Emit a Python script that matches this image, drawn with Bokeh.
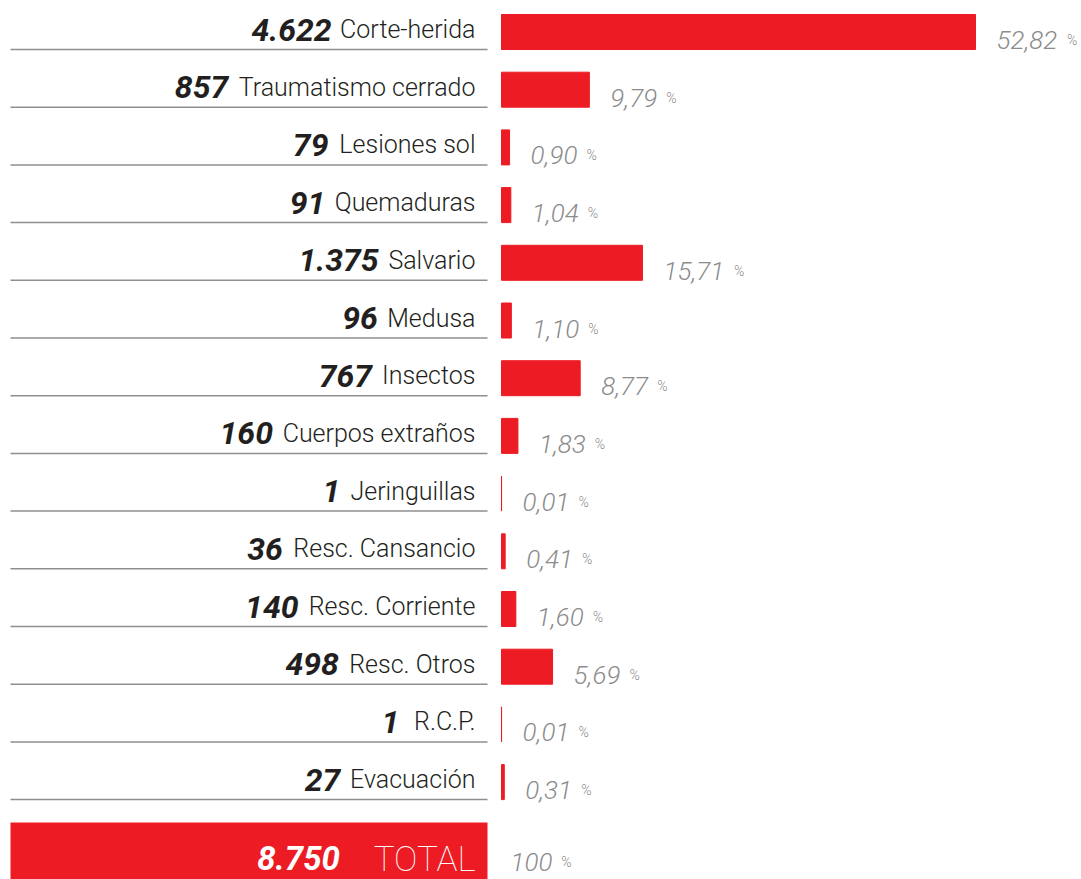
from bokeh.plotting import figure
from bokeh.models import ColumnDataSource, Range1d
from bokeh.embed import file_html
from bokeh.resources import INLINE
from bokeh.core.properties import value

# ---------------- data ----------------
categories = ["Corte-herida", "Traumatismo cerrado", "Lesiones sol", "Quemaduras",
              "Salvario", "Medusa", "Insectos", "Cuerpos extraños", "Jeringuillas",
              "Resc. Cansancio", "Resc. Corriente", "Resc. Otros", "R.C.P.", "Evacuación"]
counts = [4622, 857, 79, 91, 1375, 96, 767, 160, 1, 36, 140, 498, 1, 27]
percents = [52.82, 9.79, 0.90, 1.04, 15.71, 1.10, 8.77, 1.83, 0.01, 0.41, 1.60, 5.69, 0.01, 0.31]
total_count = 8750
total_label = "TOTAL"
total_percent = 100

# ---------------- style / layout ----------------
RED = "#ED1C24"
DARK = "#231F20"
GREY = "#8C8C8C"
RULE = "#8F8F8F"

W, H = 1081, 879
PITCH = 57.7          # px between rows
Y0 = 31.5             # canvas px of first row centre
PXU = 474 / 52.82     # px per percent unit
ZERO = 501            # canvas px of bar origin
TSHIFT = -9           # text baseline correction (px)

LIGHT = value("Roboto Light")
BOLD = value("Roboto")
THIN = value("Roboto Thin")

ROBOTO = {' ': .248, '.': .263, ',': .196, '-': .276, 'C': .652, 'E': .568, 'I': .272,
          'J': .552, 'L': .538, 'M': .872, 'P': .631, 'Q': .688, 'R': .616, 'S': .593,
          'T': .597, 'O': .688, 'A': .652, 'a': .544, 'c': .523, 'd': .550, 'e': .529,
          'g': .550, 'h': .539, 'i': .237, 'l': .237, 'm': .867, 'n': .540, 'ñ': .540,
          'o': .556, 'ó': .556, 'r': .331, 's': .517, 't': .319, 'u': .538, 'x': .485,
          'v': .473, 'q': .550, 'j': .237, 'b': .550, 'p': .550, 'f': .345,
          '0': .562, '1': .562, '2': .562, '3': .562, '4': .562, '5': .562, '6': .562,
          '7': .562, '8': .562, '9': .562, '%': .732}


def tw(s, size):
    return sum(ROBOTO.get(c, 0.55) for c in s) * size


def fmt_int(n):
    return f"{n:,}".replace(",", ".")


def fmt_pct(v):
    return f"{v:.2f}".replace(".", ",")


def X(ref_px):
    return (ref_px - ZERO) / PXU


def R(ref_px):
    return (ref_px - Y0) / PITCH


def dy(px):
    return px / PITCH


LAB_SIZE, NUM_SIZE, PCT_SIZE, SIGN_SIZE = 25, 32, 26, 14

rows = list(range(len(categories)))
pct_txt = [fmt_pct(v) for v in percents]
src = ColumnDataSource(dict(
    y=rows,
    pct=percents,
    lab=categories,
    num=[fmt_int(c) for c in counts],
    pct_txt=pct_txt,
    sign=["%"] * len(rows),
    lab_y=[r + dy(6.5 + TSHIFT) for r in rows],
    pct_y=[r + dy(17 + TSHIFT) for r in rows],
    rule_y=[r + dy(17.5) for r in rows],
    num_off=[-(tw(l, LAB_SIZE) + 9) for l in categories],
    sign_off=[21 + tw(t, PCT_SIZE) + 7 for t in pct_txt],
))

p = figure(width=W, height=H, output_backend="svg", toolbar_location=None,
           x_range=Range1d(-ZERO / PXU, (W - ZERO) / PXU),
           y_range=Range1d((H - Y0) / PITCH, -Y0 / PITCH),
           min_border=0)
p.axis.visible = False
p.grid.visible = False
p.outline_line_color = None
p.background_fill_color = "white"
p.border_fill_color = "white"

# underlines
p.segment(x0=X(10), x1=X(487), y0="rule_y", y1="rule_y", source=src,
          line_color=RULE, line_width=1.5)

# bars
p.hbar(y="y", left=0, right="pct", height=dy(35), source=src,
       fill_color=RED, line_color=RED, line_width=1)

# labels
p.text(x=X(475), y="lab_y", text="lab", source=src, text_font=LIGHT,
       text_font_size=f"{LAB_SIZE}px", text_color=DARK, text_align="right",
       text_baseline="alphabetic")
p.text(x=X(475), y="lab_y", text="num", source=src, x_offset="num_off", text_font=BOLD,
       text_font_style="bold italic", text_font_size=f"{NUM_SIZE}px", text_color=DARK,
       text_align="right", text_baseline="alphabetic")

# percentages
p.text(x="pct", y="pct_y", text="pct_txt", source=src, x_offset=21, text_font=LIGHT,
       text_font_style="italic", text_font_size=f"{PCT_SIZE}px", text_color=GREY,
       text_align="left", text_baseline="alphabetic")
p.text(x="pct", y="pct_y", text="sign", source=src, x_offset="sign_off", text_font=LIGHT,
       text_font_size=f"{SIGN_SIZE}px", text_color=GREY,
       text_align="left", text_baseline="alphabetic")

# total row
TOT_LAB, TOT_NUM = 35, 33
p.quad(left=[X(10)], right=[X(487)], top=[R(822)], bottom=[R(895)],
       fill_color=RED, line_color=None)
p.text(x=[X(475)], y=[R(868 + TSHIFT)], text=[total_label], text_font=THIN,
       text_font_size=f"{TOT_LAB}px", text_color="white", text_align="right",
       text_baseline="alphabetic")
p.text(x=[X(475)], y=[R(866 + TSHIFT)], text=[fmt_int(total_count)],
       x_offset=-(tw(total_label, TOT_LAB) + 28), text_font=BOLD,
       text_font_style="bold italic", text_font_size=f"{TOT_NUM}px", text_color="white",
       text_align="right", text_baseline="alphabetic")
p.text(x=[X(510)], y=[R(870 + TSHIFT)], text=[str(total_percent)], text_font=LIGHT,
       text_font_style="italic", text_font_size=f"{PCT_SIZE}px", text_color=GREY,
       text_align="left", text_baseline="alphabetic")
p.text(x=[X(510)], y=[R(870 + TSHIFT)], text=["%"], x_offset=tw(str(total_percent), PCT_SIZE) + 7,
       text_font=LIGHT, text_font_size=f"{SIGN_SIZE}px", text_color=GREY,
       text_align="left", text_baseline="alphabetic")

open("out.html", "w").write(file_html(p, INLINE))
